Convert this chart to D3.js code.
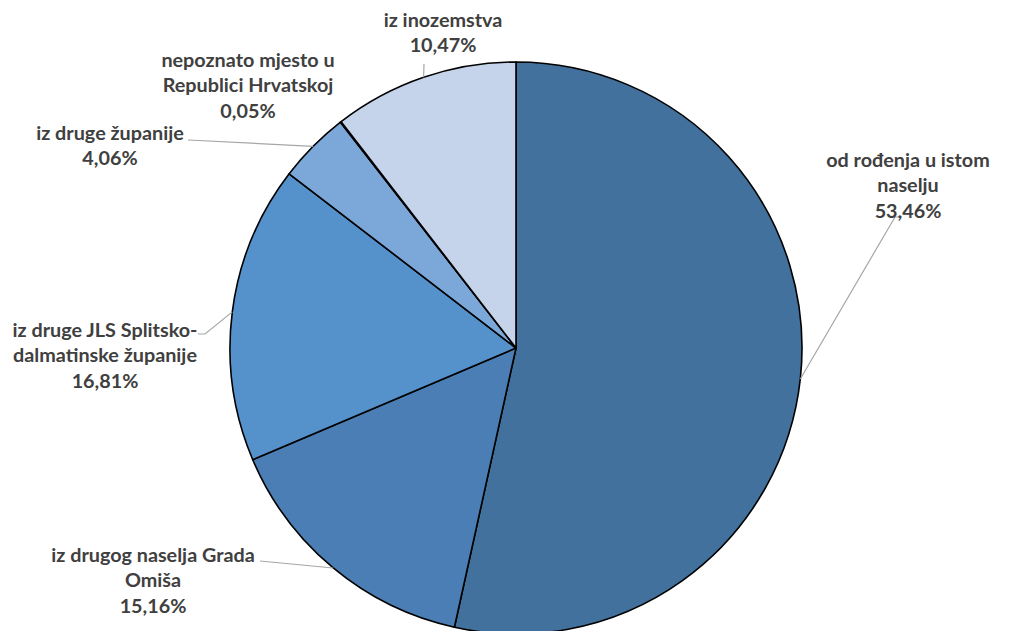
<!DOCTYPE html>
<html><head><meta charset="utf-8">
<script src="https://cdn.jsdelivr.net/npm/d3@7/dist/d3.min.js"></script>
<style>body{margin:0;background:#fff;}svg{display:block;}</style>
</head><body>
<script>
const categories = ["od rođenja u istom naselju","iz drugog naselja Grada Omiša","iz druge JLS Splitsko-dalmatinske županije","iz druge županije","nepoznato mjesto u Republici Hrvatskoj","iz inozemstva"];
const values = [53.46, 15.16, 16.81, 4.06, 0.05, 10.47];
const valueLabels = ["53,46%","15,16%","16,81%","4,06%","0,05%","10,47%"];
const labelLines = [["od rođenja u istom","naselju","53,46%"],["iz drugog naselja Grada","Omiša","15,16%"],["iz druge JLS Splitsko-","dalmatinske županije","16,81%"],["iz druge županije","4,06%"],["nepoznato mjesto u","Republici Hrvatskoj","0,05%"],["iz inozemstva","10,47%"]];
const colors = ["#41719C","#4A7EB4","#5592CB","#7BA7D9","#6F98C8","#C5D4EA"];

// layout (label block centres and leader end points)
const labelPos = [[908,160],[153,555],[105,330],[110,133],[248,60],[443,20]];
const leaderEnds = [[[895,217],[902,217]],[[260,561]],[[205,334],[198,334]],[[188,140]],null,[[424,64]]];

const W=1020,H=631,cx=516,cy=348,R=286;
const svg=d3.select("body").append("svg").attr("width",W).attr("height",H);
const g=svg.append("g").attr("transform",`translate(${cx},${cy})`);
const pie=d3.pie().sort(null).value(d=>d)(values);
const arc=d3.arc().innerRadius(0).outerRadius(R);
g.selectAll("path.s").data(pie).join("path").attr("class","s")
 .attr("d",arc).attr("fill",(d,i)=>colors[i]).attr("stroke","#000").attr("stroke-width",1.6).attr("stroke-linejoin","round");

// leader lines
pie.forEach((d,i)=>{
  if(!leaderEnds[i]) return;
  const a=(d.startAngle+d.endAngle)/2;
  const pts=[[cx+R*Math.sin(a),cy-R*Math.cos(a)],...leaderEnds[i]];
  svg.append("path").attr("d",d3.line()(pts)).attr("fill","none").attr("stroke","#A6A6A6").attr("stroke-width",1.2);
});

// labels
const lh=25.5;
labelLines.forEach((lines,i)=>{
  const t=svg.append("text").attr("text-anchor","middle").attr("font-family","Lato, 'Open Sans', sans-serif")
   .attr("font-weight","bold").attr("font-size",19.8).attr("fill","#404040");
  lines.forEach((s,j)=>{
    t.append("tspan").attr("x",labelPos[i][0]).attr("y",labelPos[i][1]+j*lh).attr("dy","0.35em").text(s);
  });
});
</script>
</body></html>
